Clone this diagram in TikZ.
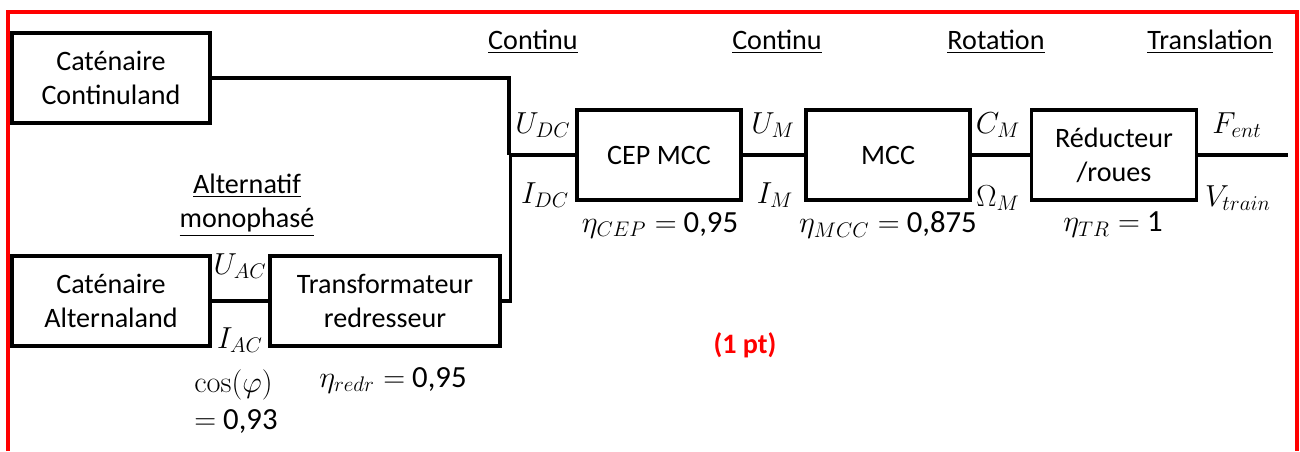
\documentclass[tikz,border=0pt]{standalone}
\usepackage[no-math]{fontspec}
\setmainfont{Carlito}
\usepackage{tikz}
\definecolor{framered}{HTML}{FF0000}

\begin{document}
\begin{tikzpicture}[
    x=0.02cm, y=-0.02cm,
    font=\fontsize{16}{19.5}\selectfont,
    box/.style={draw, line width=1.9pt, minimum height=1.8cm, align=center, inner sep=2pt},
    wire/.style={line width=1.9pt},
    lbl/.style={inner sep=1pt, font=\fontsize{17.5}{21}\selectfont},
    dom/.style={inner sep=1pt, align=center}
]
\useasboundingbox (0,0) rectangle (1300,451);

% Red frame
\draw[framered, line width=2.2pt] (8,451) -- (8,12) -- (1297,12) -- (1297,451);

% Sources
\node[box, minimum width=3.96cm] (cont) at (111,78) {Caténaire\\Continuland};
\node[box, minimum width=3.96cm] (alt) at (111,301) {Caténaire\\Alternaland};
\node[box, minimum width=4.6cm] (trans) at (385,301) {Transformateur\\redresseur};

% Conversion chain
\node[box, minimum width=3.28cm] (cep) at (659,155) {CEP MCC};
\node[box, minimum width=3.28cm] (mcc) at (888,155) {MCC};
\node[box, minimum width=3.3cm] (red) at (1114,155) {Réducteur\\/roues};

\coordinate (jn) at (509,155);
\coordinate (out) at (1288,155);

% Wires
\draw[wire] (cont.east) -| (jn);
\draw[wire] (trans.east) -- ++(9,0) |- (jn);
\draw[wire] (jn) -- (cep.west);
\draw[wire] (alt) -- (trans);
\draw[wire] (cep) -- (mcc);
\draw[wire] (mcc) -- (red);
\draw[wire] (red.east) -- (out);

% Energy domains
\node[dom] (d1) at (533,42) {\underline{Continu}};
\node[dom] (d2) at (777,42) {\underline{Continu}};
\node[dom] (d3) at (996,42) {\underline{Rotation}};
\node[dom] (d4) at (1210,42) {\underline{Translation}};
\node[dom] (d5) at (247,205) {\underline{Alternatif}\\\underline{monophasé}};

% Flow variables
\node[lbl] (udc) at (543,125) {$U_{DC}$};
\node[lbl] (idc) at (545,195) {$I_{DC}$};
\node[lbl] (um) at (773,125) {$U_M$};
\node[lbl] (im) at (775,195) {$I_M$};
\node[lbl] (cm) at (998,125) {$C_M$};
\node[lbl] (om) at (998,198) {$\Omega_M$};
\node[lbl] (fent) at (1237,125) {$F_{ent}$};
\node[lbl] (vtr) at (1238,198) {$V_{train}$};
\node[lbl] (uac) at (240,266) {$U_{AC}$};
\node[lbl] (iac) at (240,340) {$I_{AC}$};

% Efficiencies
\node[lbl] (ecep) at (660,225) {$\eta_{CEP} =$ 0,95};
\node[lbl] (emcc) at (888,225) {$\eta_{MCC} =$ 0,875};
\node[lbl] (etr) at (1113,225) {$\eta_{TR} =$ 1};
\node[lbl] (eredr) at (393,380) {$\eta_{redr} =$ 0,95};
\node[lbl, align=left] (cosphi) at (236,402) {$\cos(\varphi)$\\$=$ 0,93};

\node[lbl, text=framered, font=\fontsize{16}{19.5}\selectfont\bfseries] (pts) at (745,345) {(1 pt)};
\end{tikzpicture}
\end{document}
